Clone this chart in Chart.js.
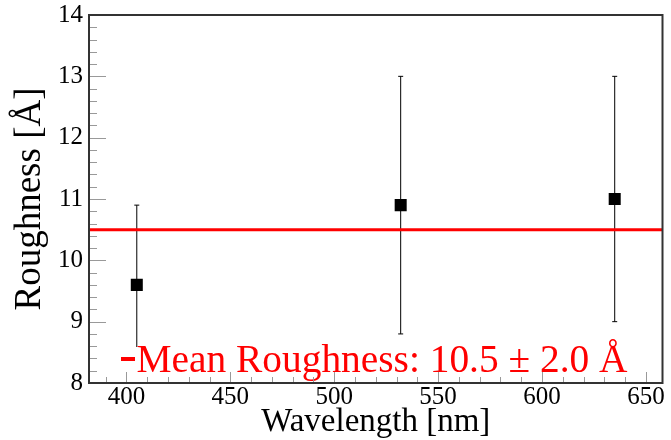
<!DOCTYPE html>
<html lang="en">
<head>
    <meta charset="UTF-8">
    <title>Roughness vs Wavelength</title>
    <script src="https://cdn.jsdelivr.net/npm/chart.js"></script>
    <style>
        body {
            margin: 0;
            background: #fff;
        }
        canvas {
            display: block;
        }
    </style>
</head>
<body>
    <canvas id="roughChart" width="671" height="440"></canvas>

    <script>
        // Measured data
        const wavelength = [405, 532, 635];
        const roughness = [9.6, 10.9, 11.0];
        const roughnessErr = [1.3, 2.1, 2.0];
        const meanRoughness = 10.5;
        const meanErr = 2.0;

        // Axis ranges and tick labels
        const xMin = 382, xMax = 658;
        const yMin = 8, yMax = 14;
        const xTicks = [400, 450, 500, 550, 600, 650];
        const yTicks = [8, 9, 10, 11, 12, 13, 14];

        const serif = "'Liberation Serif', 'Times New Roman', serif";
        Chart.defaults.font.family = serif;
        Chart.defaults.color = '#000';

        // Error bars as two-point lines with small caps
        const errorSets = wavelength.map((w, i) => ({
            type: 'line',
            data: [{ x: w, y: roughness[i] - roughnessErr[i] }, { x: w, y: roughness[i] + roughnessErr[i] }],
            borderColor: '#000',
            borderWidth: 1,
            pointStyle: 'line',
            pointRadius: 2.5,
            pointBorderColor: '#000',
            pointBorderWidth: 1,
            order: 2
        }));

        // ROOT-like frame, inward ticks and legend box
        const rootStyle = {
            id: 'rootStyle',
            afterDatasetsDraw(chart) {
                const ctx = chart.ctx;
                ctx.save();
                // legend box covers the lower part of the plot
                ctx.fillStyle = '#fff';
                ctx.fillRect(112, 347, 530, 29);
                ctx.strokeStyle = '#ff0000';
                ctx.lineWidth = 4;
                ctx.beginPath();
                ctx.moveTo(121, 359);
                ctx.lineTo(135, 359);
                ctx.stroke();
                ctx.fillStyle = '#ff0000';
                ctx.font = '39.4px ' + serif;
                ctx.textBaseline = 'alphabetic';
                ctx.fillText('Mean Roughness: ' + meanRoughness.toFixed(1) + ' \u00b1 ' + meanErr.toFixed(1) + ' \u00c5', 136.5, 372);
                ctx.restore();
            },
            afterDraw(chart) {
                const { ctx, chartArea: a, scales: { x, y } } = chart;
                ctx.save();
                ctx.strokeStyle = '#999';
                ctx.lineWidth = 1;
                ctx.beginPath();
                for (let v = Math.ceil(xMin / 10) * 10; v <= xMax; v += 10) {
                    const px = Math.round(x.getPixelForValue(v)) + 0.5;
                    const len = v % 50 === 0 ? 11 : 6;
                    ctx.moveTo(px, a.bottom);
                    ctx.lineTo(px, a.bottom - len);
                }
                for (let k = 0; k <= 30; k++) {
                    const py = Math.round(y.getPixelForValue(yMin + k * 0.2)) + 0.5;
                    const len = k % 5 === 0 ? 17 : 8;
                    ctx.moveTo(a.left, py);
                    ctx.lineTo(a.left + len, py);
                }
                ctx.stroke();
                ctx.strokeStyle = '#333';
                ctx.lineWidth = 2;
                ctx.strokeRect(a.left, a.top, a.right - a.left, a.bottom - a.top);
                ctx.restore();
            }
        };

        const ctx = document.getElementById('roughChart').getContext('2d');
        const chart = new Chart(ctx, {
            type: 'scatter',
            data: {
                datasets: [
                    {
                        // mean line across the whole range
                        type: 'line',
                        data: [{ x: xMin, y: meanRoughness }, { x: xMax, y: meanRoughness }],
                        borderColor: '#ff0000',
                        borderWidth: 3,
                        pointRadius: 0,
                        order: 0
                    },
                    {
                        data: wavelength.map((w, i) => ({ x: w, y: roughness[i] })),
                        pointStyle: 'rect',
                        pointRadius: 8.5,
                        backgroundColor: '#000',
                        pointBorderWidth: 0,
                        order: 1
                    },
                    ...errorSets
                ]
            },
            options: {
                responsive: false,
                animation: false,
                layout: { padding: { top: 15, right: 1, left: 0, bottom: 0 } },
                plugins: {
                    legend: { display: false },
                    tooltip: { enabled: false }
                },
                scales: {
                    x: {
                        type: 'linear',
                        min: xMin,
                        max: xMax,
                        afterBuildTicks: s => { s.ticks = xTicks.map(v => ({ value: v })); },
                        afterFit: s => {
                            s.height = 57;
                            s.paddingLeft = 0;
                            s.paddingRight = 0;
                        },
                        grid: { display: false, drawTicks: false },
                        border: { display: false },
                        ticks: {
                            color: '#000',
                            padding: -1,
                            maxRotation: 0,
                            font: { family: serif, size: 25 }
                        },
                        title: {
                            display: true,
                            text: 'Wavelength [nm]',
                            color: '#000',
                            padding: { top: 0, bottom: 1 },
                            font: { family: serif, size: 33, lineHeight: 1 }
                        }
                    },
                    y: {
                        min: yMin,
                        max: yMax,
                        afterBuildTicks: s => { s.ticks = yTicks.map(v => ({ value: v })); },
                        afterFit: s => {
                            s.width = 89;
                            s.paddingTop = 0;
                            s.paddingBottom = 0;
                        },
                        grid: { display: false, drawTicks: false },
                        border: { display: false },
                        ticks: {
                            color: '#000',
                            padding: 6,
                            font: { family: serif, size: 25 }
                        },
                        title: {
                            display: true,
                            text: 'Roughness [\u00c5]',
                            color: '#000',
                            padding: { top: 12, bottom: 0 },
                            font: { family: serif, size: 37, lineHeight: 1 }
                        }
                    }
                }
            },
            plugins: [rootStyle]
        });
    </script>
</body>
</html>
